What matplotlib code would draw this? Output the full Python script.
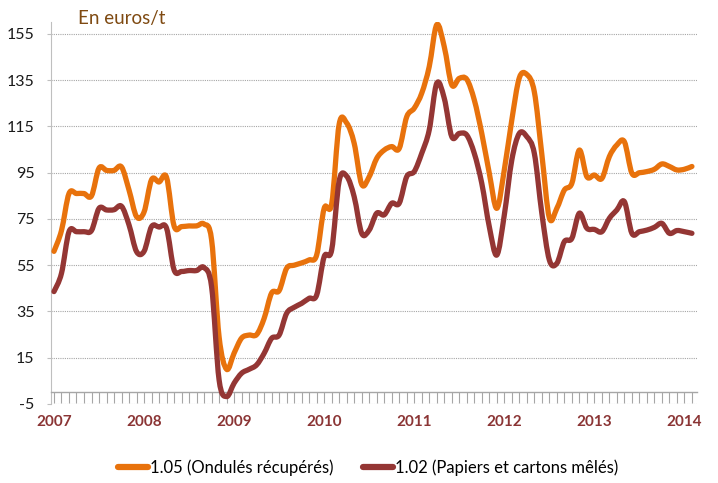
import matplotlib
matplotlib.use('Agg')
import matplotlib.pyplot as plt
from matplotlib.ticker import MultipleLocator, FixedLocator
from matplotlib.path import Path
from matplotlib.patches import PathPatch
from matplotlib.lines import Line2D

plt.rcParams['font.family'] = ['Lato', 'DejaVu Sans']
plt.rcParams['axes.unicode_minus'] = False

# monthly prices, Jan 2007 .. Feb 2014 (euros/t)
ondules = [61, 70, 86, 86, 86, 85, 97, 96, 96, 97.5, 87.5, 76,
           78, 92, 91, 93, 72, 71.7, 72, 72, 72.8, 66, 24, 10,
           17, 23.5, 24.8, 25, 32, 43, 44, 53.7, 55, 56, 57.3, 59.4,
           79.6, 81.5, 116, 116.5, 107.7, 90, 93.3, 101.2, 104.8, 106.3, 105.5, 119.2,
           122.9, 129.4, 140.9, 159, 149.5, 133, 135.8, 135.4, 126.5, 112, 94.8, 79.6,
           96.2, 117.8, 136, 137.5, 130, 103, 75.5, 79.6, 87.5, 90.4, 104.8, 93.3,
           94, 92.5, 102, 107, 108.4, 94.8, 95, 95.5, 96.5, 98.8, 97.7, 96.2,
           96.5, 97.7]
papiers = [43.6, 51.5, 69.5, 69.5, 69.5, 70, 79.6, 78.9, 79, 80.5, 72.4, 60.9,
           61, 71.7, 71.5, 71, 53, 52.3, 52.7, 52.7, 54, 45.7, 5.4, -1.8,
           4, 8.3, 10, 11.9, 16.9, 23.4, 24.8, 34.2, 36.8, 38.5, 40.7, 42.1,
           58.7, 61.6, 91.5, 93.5, 84.6, 68.8, 70.2, 77.5, 76.8, 81.8, 81.8, 93.3,
           95.5, 103.4, 113.5, 133.7, 127.2, 110.6, 112, 111.3, 103.4, 90.4, 71.7, 59.4,
           76.7, 100.5, 112, 110.6, 103.4, 77.5, 57.3, 55.8, 65.2, 66.6, 77.5, 71,
           70.5, 69.5, 75.3, 78.9, 82.5, 68.8, 69.5, 70.2, 71.4, 73.1, 68.8, 70,
           69.5, 68.8]
years = ['2007', '2008', '2009', '2010', '2011', '2012', '2013', '2014']
yticks = [-5, 15, 35, 55, 75, 95, 115, 135, 155]

ORANGE = '#E8720C'
BROWN = '#943634'
months = list(range(len(ondules)))


def smooth_path(xs, ys):
    # Excel-style smoothed line: cubic Bezier segments through every point
    n = len(xs)
    verts = [(xs[0], ys[0])]
    codes = [Path.MOVETO]
    for i in range(n - 1):
        i0, i2 = max(i - 1, 0), min(i + 2, n - 1)
        c1 = (xs[i] + (xs[i + 1] - xs[i0]) / 6, ys[i] + (ys[i + 1] - ys[i0]) / 6)
        c2 = (xs[i + 1] - (xs[i2] - xs[i]) / 6, ys[i + 1] - (ys[i2] - ys[i]) / 6)
        verts += [c1, c2, (xs[i + 1], ys[i + 1])]
        codes += [Path.CURVE4] * 3
    return Path(verts, codes)


fig = plt.figure(figsize=(7.18, 4.83), dpi=100)
ax = fig.add_axes([0.071, 0.1636, 0.900, 0.790])

for vals, col in [(ondules, ORANGE), (papiers, BROWN)]:
    ax.add_patch(PathPatch(smooth_path(months, vals), fill=False, edgecolor=col,
                           lw=3.8, joinstyle='round', capstyle='round', zorder=3))

ax.set_xlim(-0.4, 85.7)
ax.set_ylim(-5, 160)

# y axis
ax.set_yticks(yticks)
ax.yaxis.grid(True, color='#A6A6A6', ls=(0, (1, 1)), lw=0.8)
ax.tick_params(axis='y', length=3, color='#BFBFBF', labelsize=11.5,
               labelcolor='#1a1a1a', pad=9)

# x axis crosses at 0, monthly ticks hanging down
for s in ['top', 'right']:
    ax.spines[s].set_visible(False)
ax.spines['left'].set_color('#BFBFBF')
ax.spines['bottom'].set_position(('data', 0))
ax.spines['bottom'].set_color('#A6A6A6')
ax.spines['bottom'].set_linewidth(1.0)
ax.xaxis.set_major_locator(FixedLocator(range(0, 86, 12)))
ax.xaxis.set_minor_locator(MultipleLocator(1))
ax.set_xticklabels(years)
ax.tick_params(axis='x', which='both', direction='out', length=8,
               color='#A6A6A6', width=0.8)
ax.tick_params(axis='x', which='major', pad=8, labelsize=11,
               labelcolor='#8B3535')
for t in ax.get_xticklabels():
    t.set_fontweight('bold')

fig.text(0.109, 0.962, 'En euros/t', color='#7F4A12', fontsize=13.5, va='center')

handles = [Line2D([], [], color=ORANGE, lw=4.5, solid_capstyle='round'),
           Line2D([], [], color=BROWN, lw=4.5, solid_capstyle='round')]
labels = ['1.05 (Ondulés récupérés)', '1.02 (Papiers et cartons mêlés)']
fig.legend(handles, labels, loc='center', bbox_to_anchor=(0.513, 0.031), ncol=2,
           frameon=False, fontsize=12, handlelength=1.8,
           handletextpad=0.1, columnspacing=1.8)

fig.savefig('out.png', dpi=100)
